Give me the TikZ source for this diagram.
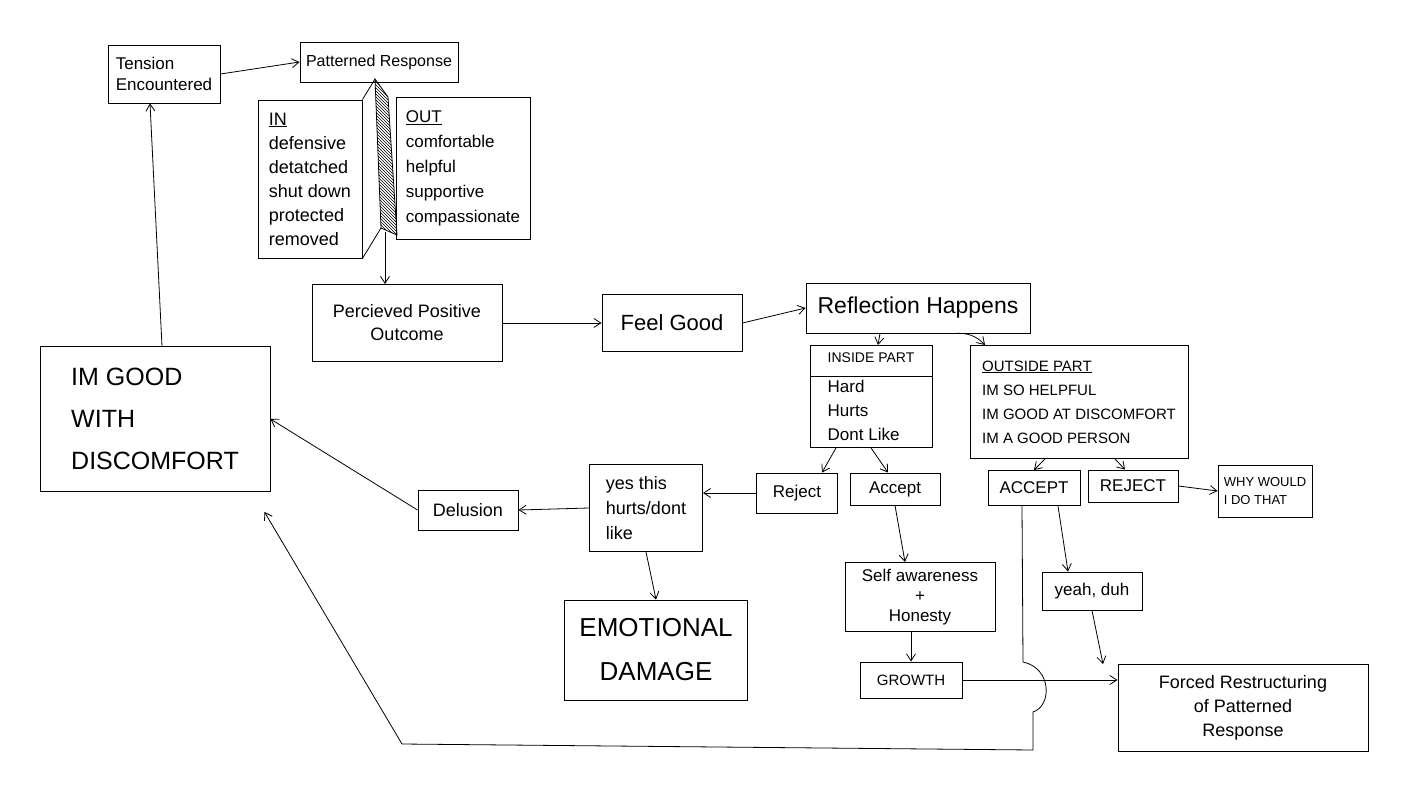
\documentclass[tikz,border=0pt]{standalone}
\usepackage{fontspec}
\setmainfont{Liberation Sans}
\usetikzlibrary{arrows.meta,patterns,calc}
\newcommand\myfs[2]{\fontsize{#1}{#2}\selectfont}
\begin{document}
\begin{tikzpicture}[x=1pt,y=-1pt,
  box/.style={draw, line width=0.9pt, inner sep=3pt, align=center},
  sz/.style 2 args={minimum width=#1pt, minimum height=#2pt},
  arr/.style={-{Straight Barb[length=7pt,width=9pt]}, line width=0.8pt},
  ln/.style={line width=0.8pt}]
\useasboundingbox[fill=white] (0,0) rectangle (1409,798);

% top-left
\node[box,sz={112}{58},align=left,font=\myfs{17}{21}] (tension) at (164,74) {Tension\\Encountered};
\node[box,sz={158}{40},font=\myfs{16}{19}] (pattern) at (379,62) {Patterned Response};
\node[box,sz={104}{158},align=left,font=\myfs{18}{24}] (inbox) at (310,179)
  {\underline{IN}\\defensive\\detatched\\shut down\\protected\\removed};
\node[box,sz={134}{142},align=left,font=\myfs{17}{25}] (outbox) at (463,168)
  {\underline{OUT}\\comfortable\\helpful\\supportive\\compassionate};
\draw[ln,pattern=north west lines] (375,79) -- (388,97) -- (397,235) -- (381,228) -- cycle;
\draw[ln] (inbox.north east) -- (375,79);
\draw[ln] (inbox.south east) -- (381,228);
\coordinate (stripbot) at (385,232);

% main row
\node[box,sz={190}{77},font=\myfs{18}{23}] (perc) at (407,323) {Percieved Positive\\Outcome};
\node[box,sz={140}{57},font=\myfs{22}{26}] (feel) at (672,323) {Feel Good};
\node[box,sz={224}{50},font=\myfs{23}{27}] (refl) at (918,308) {Reflection Happens};

\node[box,sz={230}{145},align=left,font=\myfs{25}{42}] (imgood) at (155,419) {IM GOOD\\WITH\\DISCOMFORT};

% inside / outside
\node[box,sz={122}{102},align=left,font=\myfs{17}{24},anchor=north] (inside) at (871,345)
  {{\myfs{14}{18}INSIDE PART}\\[6pt]Hard\\Hurts\\Dont Like};
\draw[ln] ($(inside.north west)+(0,31)$) -- ($(inside.north east)+(0,31)$);
\node[box,sz={218}{113},align=left,font=\myfs{15}{24},anchor=north] (outside) at (1079,345)
  {\underline{OUTSIDE PART}\\IM SO HELPFUL\\IM GOOD AT DISCOMFORT\\IM A GOOD PERSON};

\node[box,sz={81}{40},font=\myfs{17}{20}] (reject) at (797,493) {Reject};
\node[box,sz={90}{32},font=\myfs{17}{20}] (accept) at (895,489) {Accept};
\node[box,sz={113}{87},align=left,font=\myfs{18}{25}] (yes) at (646,508) {yes this\\hurts/dont\\like};
\node[box,sz={100}{40},font=\myfs{18}{21}] (delusion) at (468,510) {Delusion};
\node[box,sz={183}{100},font=\myfs{26}{44}] (emot) at (656,650) {EMOTIONAL\\DAMAGE};
\node[box,sz={150}{69},font=\myfs{17}{20}] (self) at (920,597) {Self awareness\\+\\Honesty};
\node[box,sz={102}{36},font=\myfs{15}{18}] (growth) at (911,680) {GROWTH};

\node[box,sz={92}{35},font=\myfs{17}{20}] (acc2) at (1034,488) {ACCEPT};
\node[box,sz={90}{32},font=\myfs{17}{20}] (rej2) at (1133,486) {REJECT};
\node[box,sz={94}{52},align=left,font=\myfs{13}{18}] (why) at (1265,491) {WHY WOULD\\I DO THAT};
\node[box,sz={100}{38},font=\myfs{17}{20}] (yeah) at (1092,591) {yeah, duh};
\node[box,sz={250}{87},font=\myfs{18}{24}] (forced) at (1243,708) {Forced Restructuring\\of Patterned\\Response};

% connectors
\draw[arr] (tension.east) -- (pattern.west);
\draw[arr] (stripbot) -- ([xshift=-22pt]perc.north);
\draw[arr] (perc.east) -- (feel.west);
\draw[arr] (feel.east) -- (refl.west);
\draw[arr] ([xshift=-38pt]refl.south) -- ([xshift=7pt]inside.north);
\draw[arr] ([xshift=37pt]refl.south) to[bend left=25] ([xshift=-94pt]outside.north);
\draw[arr] ([xshift=-35pt]inside.south) -- ([xshift=25pt]reject.north);
\draw[arr] (inside.south) -- ([xshift=-7pt]accept.north);
\draw[arr] (reject.west) -- (yes.east |- reject.west);
\draw[arr] (yes.west) -- (delusion.east);
\draw[arr] (delusion.west) -- (imgood.east);
\draw[arr] ([xshift=7pt]imgood.north) -- ([xshift=-14pt]tension.south);
\draw[arr] (yes.south) -- (emot.north);
\draw[arr] (accept.south) -- ([xshift=-15pt]self.north);
\draw[arr] ([xshift=-9pt]self.south) -- (growth.north);
\draw[arr] ([xshift=-34pt]outside.south) -- (acc2.north);
\draw[arr] ([xshift=36pt]outside.south) -- ([xshift=-8pt]rej2.north);
\draw[arr] (rej2.east) -- (why.west);
\draw[arr] ([xshift=24pt]acc2.south) -- ([xshift=-24pt]yeah.north);
\draw[arr] (yeah.south) -- ([xshift=-140pt]forced.north);
\draw[arr] (growth.east) -- (forced.west |- growth.east);
\draw[arr] ([xshift=-12pt]acc2.south) -- (1023,662)
  .. controls (1052,668) and (1052,706) .. (1033,712)
  -- (1033,750) -- (402,744) -- ([xshift=-6pt,yshift=-20pt]imgood.south east);
\end{tikzpicture}
\end{document}
